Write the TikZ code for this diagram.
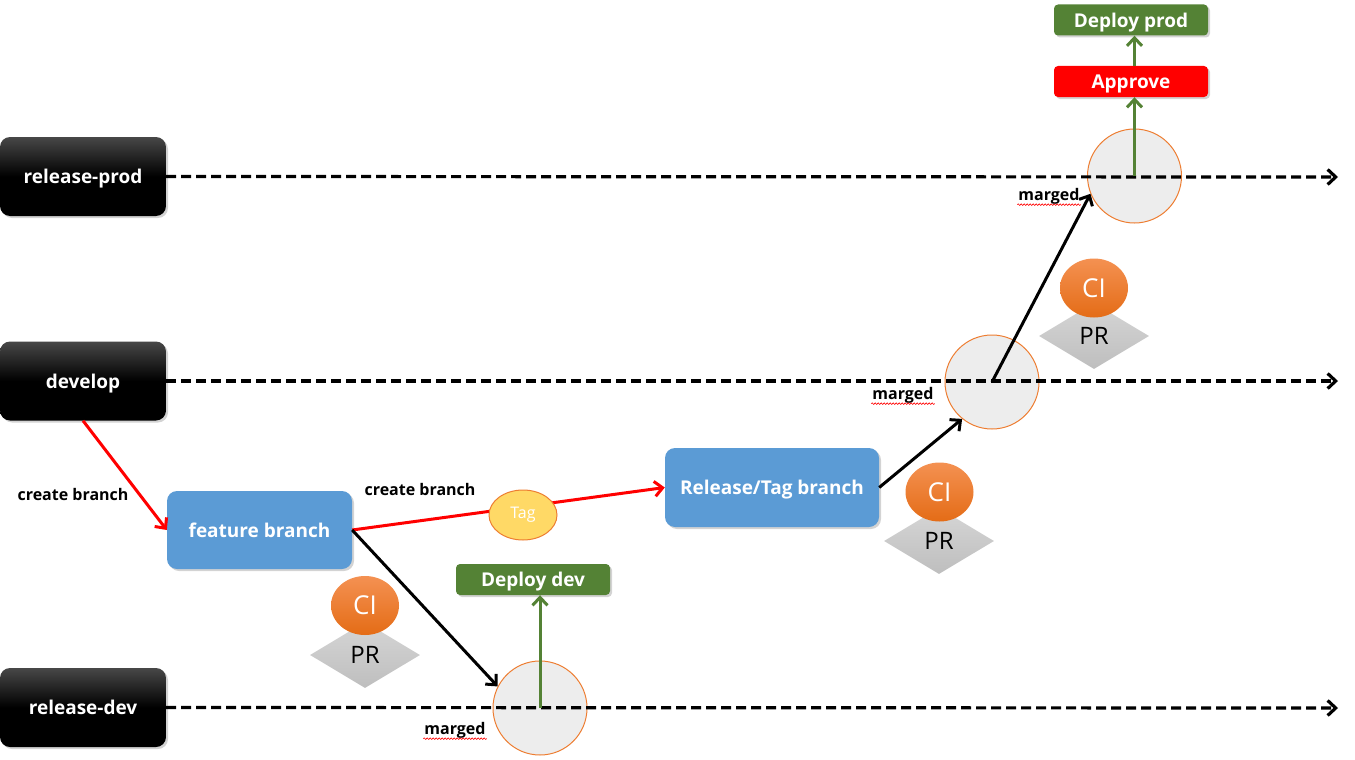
\documentclass[tikz,border=0pt]{standalone}
\usepackage{fontspec}
\setmainfont{Open Sans}
\usetikzlibrary{shapes.geometric,shadows,arrows.meta,decorations.pathmorphing}

\definecolor{workblue}{RGB}{91,155,213}
\definecolor{deploygreen}{RGB}{84,130,53}
\definecolor{mergeline}{RGB}{237,125,49}
\definecolor{mergefill}{RGB}{237,237,237}
\definecolor{tagfill}{RGB}{255,217,102}
\definecolor{citop}{RGB}{244,145,82}
\definecolor{cibottom}{RGB}{228,108,22}
\definecolor{prtop}{RGB}{214,214,214}
\definecolor{prbottom}{RGB}{190,190,190}

\begin{document}
\begin{tikzpicture}[x=1pt, y=-1pt, >={Straight Barb[length=8pt,width=15pt]}]

\tikzstyle lane=[rounded corners=10pt, minimum width=166pt, minimum height=79pt, text depth=0pt, top color=black!72, bottom color=black, middle color=black, text=white, font=\fontsize{19}{22}\selectfont\bfseries, drop shadow={opacity=.35, shadow xshift=2pt, shadow yshift=-2pt}]
\tikzstyle work=[rounded corners=10pt, text depth=0pt, fill=workblue, text=white, font=\fontsize{19}{22}\selectfont\bfseries, drop shadow={opacity=.35, shadow xshift=2pt, shadow yshift=-2pt}]
\tikzstyle merge=[circle, minimum size=94pt, inner sep=0pt, draw=mergeline, fill=mergefill, line width=1pt]
\tikzstyle tag=[ellipse, minimum width=68pt, minimum height=50pt, inner sep=0pt, draw=mergeline, fill=tagfill, line width=1pt, text=white, font=\fontsize{16}{18}\selectfont]
\tikzstyle ci=[ellipse, minimum width=68pt, minimum height=59pt, inner sep=0pt, top color=citop, bottom color=cibottom, text=white, font=\fontsize{26}{28}\selectfont]
\tikzstyle pr=[diamond, minimum width=110pt, minimum height=66pt, inner sep=0pt, top color=prtop, bottom color=prbottom, font=\fontsize{24}{26}\selectfont]
\tikzstyle deploy=[rounded corners=4pt, minimum width=154pt, minimum height=31pt, inner sep=0pt, text depth=0pt, fill=deploygreen, text=white, font=\fontsize{19}{22}\selectfont\bfseries, drop shadow={opacity=.35, shadow xshift=2pt, shadow yshift=-2pt}]
\tikzstyle approve=[deploy, fill=red]
\tikzstyle lbl=[inner sep=1pt, font=\fontsize{16}{18}\selectfont\bfseries]
\tikzstyle flow=[line width=3.2pt, dash pattern=on 10pt off 5pt]
\tikzstyle branch=[line width=3pt, red]
\tikzstyle push=[line width=3pt, black]
\tikzstyle go=[line width=3pt, deploygreen]
\tikzstyle spell=[red, line width=.6pt, decorate, decoration={snake, amplitude=.8pt, segment length=3pt}]

\useasboundingbox (0,0) rectangle (1355,760);

\node (rprod) [lane] at (83,176.5) {release-prod};
\node (develop) [lane] at (83,381) {develop};
\node (rdev) [lane] at (83,707.5) {release-dev};

\node (mprod) [merge] at (1134.5,176) {};
\node (mdevelop) [merge] at (992,382) {};
\node (mdev) [merge] at (540,708) {};

\coordinate (eprod) at (1338,177);
\coordinate (edevelop) at (1338,381);
\coordinate (edev) at (1338,708);

\draw [->, flow] (rprod.east) -- (eprod);
\draw [->, flow] (develop.east) -- (edevelop);
\draw [->, flow] (rdev.east) -- (edev);

\node (feature) [work, minimum width=185pt, minimum height=78pt] at (259.5,530) {feature branch};
\node (reltag) [work, minimum width=214pt, minimum height=79pt] at (772,487.5) {Release/Tag branch};

\draw [->, branch] (develop.south) -- (feature.west);
\draw [->, branch] (feature.east) -- (reltag.west);

\node (tag) [tag] at (523,515) {Tag};

\draw [->, push] (feature.east) -- (mdev.153);
\draw [->, push] (reltag.east) -- (mdevelop.231);
\draw [->, push] (mdevelop.center) -- (mprod.202);

\node (pr1) [pr] at (365,655) {PR};
\node (ci1) [ci] at (365,605.5) {CI};
\node (pr2) [pr] at (939,541) {PR};
\node (ci2) [ci] at (939.5,492) {CI};
\node (pr3) [pr] at (1094,336) {PR};
\node (ci3) [ci] at (1094,288) {CI};

\node (ddev) [deploy] at (533,579.5) {Deploy dev};
\node (approve) [approve] at (1131,81.5) {Approve};
\node (dprod) [deploy] at (1131,20) {Deploy prod};

\draw [->, go] (mdev.center) -- (mdev.center |- ddev.south);
\draw [->, go] (mprod.center) -- (mprod.center |- approve.south);
\draw [->, go] (mprod.center |- approve.north) -- (mprod.center |- dprod.south);

\node (cb1) [lbl] at (73,494) {create branch};
\node (cb2) [lbl] at (420,489) {create branch};
\node (mg1) [lbl] at (1049,196) {marged};
\node (mg2) [lbl] at (903,395) {marged};
\node (mg3) [lbl] at (455,730) {marged};

\draw [spell] ([yshift=-4.5pt]mg1.base west) -- ([yshift=-4.5pt]mg1.base east);
\draw [spell] ([yshift=-4.5pt]mg2.base west) -- ([yshift=-4.5pt]mg2.base east);
\draw [spell] ([yshift=-4.5pt]mg3.base west) -- ([yshift=-4.5pt]mg3.base east);

\end{tikzpicture}
\end{document}
